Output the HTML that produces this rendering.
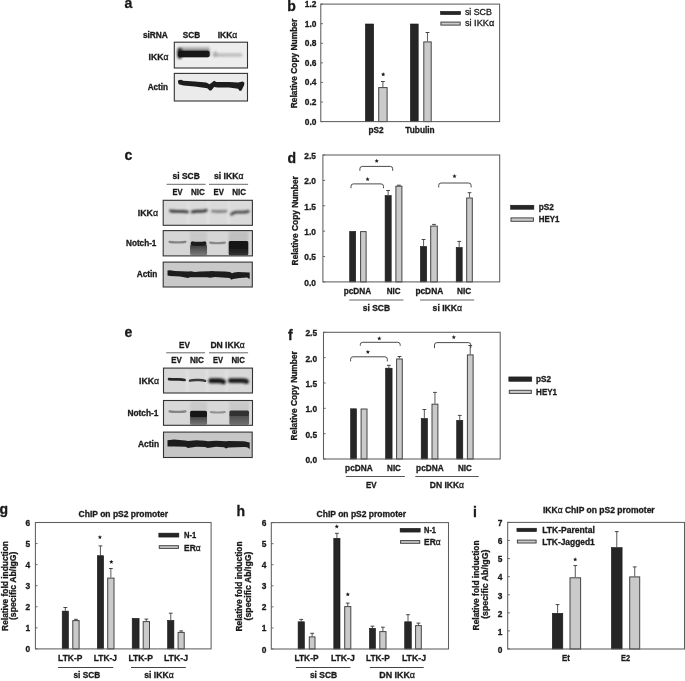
<!DOCTYPE html>
<html><head><meta charset="utf-8"><style>
html,body{margin:0;padding:0;background:#fff;width:685px;height:681px;overflow:hidden}
svg{display:block;will-change:transform}
text{font-family:"Liberation Sans", sans-serif;stroke:#1a1a1a;stroke-width:0.3px}
</style></head><body>
<svg width="685" height="681" viewBox="0 0 685 681">
<defs><filter id="b1" filterUnits="userSpaceOnUse" x="0" y="0" width="685" height="681"><feGaussianBlur stdDeviation="0.8"/></filter><filter id="b2" filterUnits="userSpaceOnUse" x="0" y="0" width="685" height="681"><feGaussianBlur stdDeviation="1.4"/></filter><filter id="b05" filterUnits="userSpaceOnUse" x="0" y="0" width="685" height="681"><feGaussianBlur stdDeviation="0.45"/></filter><filter id="b06" filterUnits="userSpaceOnUse" x="0" y="0" width="685" height="681"><feGaussianBlur stdDeviation="0.6"/></filter><filter id="b03" filterUnits="userSpaceOnUse" x="0" y="0" width="685" height="681"><feGaussianBlur stdDeviation="0.3"/></filter><linearGradient id="g5" x1="0" y1="0" x2="0" y2="1"><stop offset="0" stop-color="#e4e4e4"/><stop offset="0.5" stop-color="#7a7a7a"/><stop offset="1" stop-color="#1a1a1a"/></linearGradient><linearGradient id="g6" x1="0" y1="0" x2="0" y2="1"><stop offset="0" stop-color="#3a3a3a"/><stop offset="0.5" stop-color="#5a5a5a"/><stop offset="1" stop-color="#7c7c7c"/></linearGradient><linearGradient id="g7" x1="0" y1="0" x2="0" y2="1"><stop offset="0" stop-color="#181818"/><stop offset="0.0" stop-color="#181818"/><stop offset="1" stop-color="#333333"/></linearGradient><linearGradient id="g8" x1="0" y1="0" x2="0" y2="1"><stop offset="0" stop-color="#141414"/><stop offset="0.0" stop-color="#141414"/><stop offset="1" stop-color="#141414"/></linearGradient><linearGradient id="g9" x1="0" y1="0" x2="0" y2="1"><stop offset="0" stop-color="#333"/><stop offset="0.0" stop-color="#333"/><stop offset="1" stop-color="#777"/></linearGradient><linearGradient id="g10" x1="0" y1="0" x2="0" y2="1"><stop offset="0" stop-color="#181818"/><stop offset="0.0" stop-color="#181818"/><stop offset="1" stop-color="#181818"/></linearGradient><linearGradient id="g11" x1="0" y1="0" x2="0" y2="1"><stop offset="0" stop-color="#4a4a4a"/><stop offset="0.0" stop-color="#4a4a4a"/><stop offset="1" stop-color="#707070"/></linearGradient><linearGradient id="g12" x1="0" y1="0" x2="0" y2="1"><stop offset="0" stop-color="#303030"/><stop offset="0.0" stop-color="#303030"/><stop offset="1" stop-color="#303030"/></linearGradient></defs>
<rect width="685" height="681" fill="#fff"/>
<text x="124.60" y="7.80" font-size="14" font-weight="bold" fill="#1a1a1a">a</text>
<text x="142.90" y="37.60" font-size="8.3" font-weight="bold" fill="#1a1a1a" textLength="25.00" lengthAdjust="spacingAndGlyphs">siRNA</text>
<text x="182.80" y="37.60" font-size="8.3" font-weight="bold" fill="#1a1a1a" textLength="17.40" lengthAdjust="spacingAndGlyphs">SCB</text>
<text x="217.70" y="37.60" font-size="8.3" font-weight="bold" fill="#1a1a1a" textLength="19.50" lengthAdjust="spacingAndGlyphs">IKK<tspan font-weight="normal">&#945;</tspan></text>
<text x="148.60" y="60.20" font-size="8.3" font-weight="bold" fill="#1a1a1a" textLength="19.90" lengthAdjust="spacingAndGlyphs">IKK<tspan font-weight="normal">&#945;</tspan></text>
<text x="147.70" y="89.60" font-size="8.3" font-weight="bold" fill="#1a1a1a" textLength="20.40" lengthAdjust="spacingAndGlyphs">Actin</text>
<rect x="174.30" y="42.20" width="73.20" height="25.80" fill="#ededed"/>
<rect x="178.20" y="46.00" width="31.40" height="10.00" rx="1.5" fill="url(#g5)" filter="url(#b1)"/>
<rect x="178.20" y="50.70" width="31.40" height="6.60" rx="2.00" fill="#161616" opacity="1" filter="url(#b06)"/>
<rect x="177.40" y="48.00" width="4.80" height="11.00" rx="2.40" fill="#161616" opacity="0.85" filter="url(#b1)"/>
<rect x="213.00" y="53.20" width="29.50" height="3.60" rx="1.80" fill="#b8b8b8" opacity="0.9" filter="url(#b1)"/>
<rect x="213.00" y="51.00" width="4.50" height="6.00" rx="3.00" fill="#a0a0a0" opacity="0.6" filter="url(#b1)"/>
<rect x="174.30" y="42.20" width="73.20" height="25.80" fill="none" stroke="#333" stroke-width="1.1"/>
<rect x="174.30" y="73.40" width="73.20" height="27.60" fill="#ebebeb"/>
<path d="M178.30,80.20 L181.10,79.70 L183.40,80.80 L194.80,81.40 L206.20,82.50 L209.60,84.20 L211.90,82.50 L214.10,80.80 L216.40,82.00 L228.90,82.00 L238.00,82.50 L242.60,81.40 L244.30,82.50 L244.30,84.80 L241.50,90.50 L239.80,91.10 L238.00,88.80 L228.90,87.60 L217.50,87.60 L214.10,87.10 L211.30,90.50 L209.60,90.50 L207.30,88.20 L194.80,86.50 L183.40,85.40 L178.80,84.20 L177.90,82.00 Z" fill="#1c1c1c" filter="url(#b05)"/>
<rect x="174.30" y="73.40" width="73.20" height="27.60" fill="none" stroke="#333" stroke-width="1.1"/>
<text x="287.20" y="10.50" font-size="14" font-weight="bold" fill="#1a1a1a">b</text>
<rect x="365.40" y="24.00" width="8.30" height="97.60" fill="#262626" stroke="#161616" stroke-width="0.6"/>
<line x1="382.90" y1="81.50" x2="382.90" y2="87.10" stroke="#666" stroke-width="1.1" />
<line x1="381.00" y1="81.50" x2="384.80" y2="81.50" stroke="#333" stroke-width="0.9" />
<rect x="378.70" y="87.60" width="8.40" height="34.00" fill="#cacaca" stroke="#444" stroke-width="1"/>
<rect x="410.40" y="24.00" width="7.80" height="97.60" fill="#262626" stroke="#161616" stroke-width="0.6"/>
<line x1="427.50" y1="32.50" x2="427.50" y2="41.40" stroke="#666" stroke-width="1.1" />
<line x1="425.60" y1="32.50" x2="429.40" y2="32.50" stroke="#333" stroke-width="0.9" />
<rect x="423.80" y="41.90" width="7.40" height="79.70" fill="#cacaca" stroke="#444" stroke-width="1"/>
<rect x="320.80" y="4.10" width="178.80" height="117.50" fill="none" stroke="#5e5e5e" stroke-width="1.05"/>
<line x1="320.80" y1="121.60" x2="323.00" y2="121.60" stroke="#5e5e5e" stroke-width="0.9" />
<text x="316.50" y="124.60" font-size="8.4" font-weight="bold" fill="#1a1a1a" text-anchor="end">0.0</text>
<line x1="320.80" y1="102.02" x2="323.00" y2="102.02" stroke="#5e5e5e" stroke-width="0.9" />
<text x="316.50" y="105.02" font-size="8.4" font-weight="bold" fill="#1a1a1a" text-anchor="end">0.2</text>
<line x1="320.80" y1="82.43" x2="323.00" y2="82.43" stroke="#5e5e5e" stroke-width="0.9" />
<text x="316.50" y="85.43" font-size="8.4" font-weight="bold" fill="#1a1a1a" text-anchor="end">0.4</text>
<line x1="320.80" y1="62.85" x2="323.00" y2="62.85" stroke="#5e5e5e" stroke-width="0.9" />
<text x="316.50" y="65.85" font-size="8.4" font-weight="bold" fill="#1a1a1a" text-anchor="end">0.6</text>
<line x1="320.80" y1="43.27" x2="323.00" y2="43.27" stroke="#5e5e5e" stroke-width="0.9" />
<text x="316.50" y="46.27" font-size="8.4" font-weight="bold" fill="#1a1a1a" text-anchor="end">0.8</text>
<line x1="320.80" y1="23.68" x2="323.00" y2="23.68" stroke="#5e5e5e" stroke-width="0.9" />
<text x="316.50" y="26.68" font-size="8.4" font-weight="bold" fill="#1a1a1a" text-anchor="end">1.0</text>
<line x1="320.80" y1="4.10" x2="323.00" y2="4.10" stroke="#5e5e5e" stroke-width="0.9" />
<text x="316.50" y="7.10" font-size="8.4" font-weight="bold" fill="#1a1a1a" text-anchor="end">1.2</text>
<text x="297.40" y="63.50" font-size="8.3" font-weight="bold" fill="#1a1a1a" text-anchor="middle" textLength="89.50" lengthAdjust="spacingAndGlyphs" transform="rotate(-90 297.40 63.50)">Relative Copy Number</text>
<polygon points="383.20,72.15 383.80,73.58 385.34,73.70 384.16,74.71 384.52,76.22 383.20,75.41 381.88,76.22 382.24,74.71 381.06,73.70 382.60,73.58" fill="#1a1a1a"/>
<text x="368.60" y="133.20" font-size="8.3" font-weight="bold" fill="#1a1a1a" textLength="15.10" lengthAdjust="spacingAndGlyphs">pS2</text>
<text x="405.30" y="133.20" font-size="8.3" font-weight="bold" fill="#1a1a1a" textLength="29.40" lengthAdjust="spacingAndGlyphs">Tubulin</text>
<rect x="440.40" y="11.30" width="20.30" height="3.40" fill="#262626" stroke="#161616" stroke-width="0.5"/>
<rect x="440.90" y="22.10" width="19.30" height="3.00" fill="#cacaca" stroke="#444" stroke-width="1"/>
<text x="464.90" y="15.40" font-size="8.6" font-weight="normal" fill="#1a1a1a" textLength="27.00" lengthAdjust="spacingAndGlyphs">si SCB</text>
<text x="464.90" y="25.90" font-size="8.6" font-weight="normal" fill="#1a1a1a" textLength="29.40" lengthAdjust="spacingAndGlyphs">si IKK&#945;</text>
<text x="124.40" y="160.00" font-size="14" font-weight="bold" fill="#1a1a1a">c</text>
<text x="172.60" y="178.90" font-size="8.3" font-weight="bold" fill="#1a1a1a" textLength="27.20" lengthAdjust="spacingAndGlyphs">si SCB</text>
<text x="213.90" y="178.90" font-size="8.3" font-weight="bold" fill="#1a1a1a" textLength="29.60" lengthAdjust="spacingAndGlyphs">si IKK<tspan font-weight="normal">&#945;</tspan></text>
<line x1="166.60" y1="184.30" x2="205.60" y2="184.30" stroke="#6a6a6a" stroke-width="1" />
<line x1="209.00" y1="184.30" x2="248.10" y2="184.30" stroke="#6a6a6a" stroke-width="1" />
<text x="172.60" y="194.70" font-size="8.3" font-weight="bold" fill="#1a1a1a" textLength="10.00" lengthAdjust="spacingAndGlyphs">EV</text>
<text x="191.00" y="194.70" font-size="8.3" font-weight="bold" fill="#1a1a1a" textLength="13.90" lengthAdjust="spacingAndGlyphs">NIC</text>
<text x="213.50" y="194.70" font-size="8.3" font-weight="bold" fill="#1a1a1a" textLength="10.30" lengthAdjust="spacingAndGlyphs">EV</text>
<text x="232.30" y="194.70" font-size="8.3" font-weight="bold" fill="#1a1a1a" textLength="13.80" lengthAdjust="spacingAndGlyphs">NIC</text>
<text x="137.80" y="216.00" font-size="8.3" font-weight="bold" fill="#1a1a1a" textLength="20.20" lengthAdjust="spacingAndGlyphs">IKK<tspan font-weight="normal">&#945;</tspan></text>
<text x="126.00" y="245.60" font-size="8.3" font-weight="bold" fill="#1a1a1a" textLength="30.40" lengthAdjust="spacingAndGlyphs">Notch-1</text>
<text x="136.70" y="277.00" font-size="8.3" font-weight="bold" fill="#1a1a1a" textLength="20.70" lengthAdjust="spacingAndGlyphs">Actin</text>
<rect x="163.20" y="200.30" width="89.20" height="25.00" fill="#dadada"/>
<rect x="186.80" y="201.00" width="2.40" height="24.00" fill="#e2e2e2" filter="url(#b1)"/>
<rect x="206.80" y="201.00" width="2.40" height="24.00" fill="#e2e2e2" filter="url(#b1)"/>
<rect x="227.30" y="201.00" width="2.40" height="24.00" fill="#e2e2e2" filter="url(#b1)"/>
<path d="M170.50,210.80 Q172.60,211.30 176.10,211.30 L181.90,211.30 Q185.40,211.30 187.50,211.90" stroke="#3a3a3a" stroke-width="2.80" stroke-linecap="round" fill="none" opacity="1" filter="url(#b1)"/>
<path d="M192.30,211.90 Q194.30,211.30 197.80,211.30 L200.70,211.30 Q204.20,211.30 206.20,210.30" stroke="#3a3a3a" stroke-width="3.00" stroke-linecap="round" fill="none" opacity="1" filter="url(#b1)"/>
<path d="M212.40,211.10 Q214.70,211.50 218.20,211.50 L220.30,211.50 Q223.80,211.50 226.10,211.10" stroke="#727272" stroke-width="2.40" stroke-linecap="round" fill="none" opacity="1" filter="url(#b1)"/>
<path d="M231.50,214.20 Q233.60,212.20 237.10,212.20 L242.70,212.20 Q246.20,212.20 248.30,211.40" stroke="#4a4a4a" stroke-width="2.80" stroke-linecap="round" fill="none" opacity="1" filter="url(#b1)"/>
<rect x="163.20" y="200.30" width="89.20" height="25.00" fill="none" stroke="#333" stroke-width="1.1"/>
<rect x="163.20" y="230.60" width="89.20" height="25.30" fill="#d6d6d6"/>
<path d="M169.50,241.80 Q171.90,242.30 175.40,242.30 L179.60,242.30 Q183.10,242.30 185.50,241.80" stroke="#858585" stroke-width="2.20" stroke-linecap="round" fill="none" opacity="1" filter="url(#b06)"/>
<rect x="190.10" y="231.50" width="16.90" height="23.50" fill="#c8c8c8" filter="url(#b1)"/>
<rect x="190.10" y="244.50" width="16.90" height="10.70" rx="1.5" fill="url(#g6)" filter="url(#b06)"/>
<path d="M192.70,243.50 Q194.10,243.80 197.60,243.80 L199.50,243.80 Q203.00,243.80 204.40,243.50" stroke="#1c1c1c" stroke-width="4.20" stroke-linecap="round" fill="none" opacity="1" filter="url(#b06)"/>
<path d="M210.10,242.70 Q212.50,243.20 216.00,243.20 L218.90,243.20 Q222.40,243.20 224.80,242.70" stroke="#8a8a8a" stroke-width="2.20" stroke-linecap="round" fill="none" opacity="1" filter="url(#b06)"/>
<rect x="228.70" y="231.50" width="19.60" height="23.50" fill="#c0c0c0" filter="url(#b1)"/>
<rect x="228.70" y="247.00" width="19.60" height="8.20" rx="1.5" fill="url(#g7)" filter="url(#b06)"/>
<rect x="228.70" y="241.00" width="19.60" height="8.00" rx="1.5" fill="url(#g8)" filter="url(#b06)"/>
<rect x="163.20" y="230.60" width="89.20" height="25.30" fill="none" stroke="#333" stroke-width="1.1"/>
<rect x="163.20" y="262.10" width="89.10" height="24.90" fill="#c9c9c9"/>
<path d="M167.50,270.60 L170.00,270.30 L175.00,271.00 L188.00,271.60 L191.00,271.20 L195.00,271.90 L200.00,271.50 L209.00,271.30 L212.00,270.90 L215.00,271.30 L225.00,271.40 L230.00,271.90 L232.00,273.30 L234.00,272.40 L238.00,272.00 L249.70,272.40 L249.70,278.90 L247.00,277.60 L240.00,277.90 L233.00,278.90 L231.50,279.70 L229.50,277.90 L215.00,277.00 L210.00,277.80 L207.00,277.20 L200.00,277.20 L190.00,277.20 L188.00,278.00 L180.00,276.60 L170.00,276.00 L167.50,275.40 Z" fill="#1e1e1e" filter="url(#b05)"/>
<rect x="163.20" y="262.10" width="89.10" height="24.90" fill="none" stroke="#333" stroke-width="1.1"/>
<text x="124.40" y="336.80" font-size="14" font-weight="bold" fill="#1a1a1a">e</text>
<text x="179.10" y="347.60" font-size="8.3" font-weight="bold" fill="#1a1a1a" textLength="10.90" lengthAdjust="spacingAndGlyphs">EV</text>
<text x="210.40" y="347.60" font-size="8.3" font-weight="bold" fill="#1a1a1a" textLength="34.40" lengthAdjust="spacingAndGlyphs">DN IKK<tspan font-weight="normal">&#945;</tspan></text>
<line x1="166.20" y1="352.80" x2="205.10" y2="352.80" stroke="#6a6a6a" stroke-width="1" />
<line x1="209.00" y1="352.80" x2="248.10" y2="352.80" stroke="#6a6a6a" stroke-width="1" />
<text x="171.20" y="363.20" font-size="8.3" font-weight="bold" fill="#1a1a1a" textLength="10.50" lengthAdjust="spacingAndGlyphs">EV</text>
<text x="189.90" y="363.20" font-size="8.3" font-weight="bold" fill="#1a1a1a" textLength="14.10" lengthAdjust="spacingAndGlyphs">NIC</text>
<text x="213.00" y="363.20" font-size="8.3" font-weight="bold" fill="#1a1a1a" textLength="10.10" lengthAdjust="spacingAndGlyphs">EV</text>
<text x="231.40" y="363.20" font-size="8.3" font-weight="bold" fill="#1a1a1a" textLength="13.60" lengthAdjust="spacingAndGlyphs">NIC</text>
<text x="139.10" y="383.60" font-size="8.3" font-weight="bold" fill="#1a1a1a" textLength="20.00" lengthAdjust="spacingAndGlyphs">IKK<tspan font-weight="normal">&#945;</tspan></text>
<text x="127.40" y="415.60" font-size="8.3" font-weight="bold" fill="#1a1a1a" textLength="31.10" lengthAdjust="spacingAndGlyphs">Notch-1</text>
<text x="137.90" y="447.10" font-size="8.3" font-weight="bold" fill="#1a1a1a" textLength="21.20" lengthAdjust="spacingAndGlyphs">Actin</text>
<rect x="163.50" y="368.10" width="89.00" height="24.90" fill="#d8d8d8"/>
<rect x="186.10" y="369.00" width="2.40" height="23.00" fill="#e2e2e2" filter="url(#b1)"/>
<rect x="205.80" y="369.00" width="2.40" height="23.00" fill="#e2e2e2" filter="url(#b1)"/>
<rect x="225.40" y="369.00" width="2.40" height="23.00" fill="#e2e2e2" filter="url(#b1)"/>
<path d="M169.00,379.10 Q171.20,379.40 174.70,379.40 L178.90,379.40 Q182.40,379.40 184.60,379.90" stroke="#262626" stroke-width="2.60" stroke-linecap="round" fill="none" opacity="1" filter="url(#b06)"/>
<path d="M189.90,380.60 Q192.20,380.00 195.70,380.00 L199.30,380.00 Q202.80,380.00 205.10,380.80" stroke="#3a3a3a" stroke-width="2.40" stroke-linecap="round" fill="none" opacity="1" filter="url(#b06)"/>
<path d="M210.90,380.70 Q211.90,380.70 215.40,380.70 L218.90,380.70 Q222.40,380.70 223.40,381.70" stroke="#181818" stroke-width="5.00" stroke-linecap="round" fill="none" opacity="1" filter="url(#b1)"/>
<path d="M230.40,380.70 Q231.50,380.70 235.00,380.70 L242.00,380.70 Q245.50,380.70 246.60,381.50" stroke="#1c1c1c" stroke-width="4.80" stroke-linecap="round" fill="none" opacity="1" filter="url(#b1)"/>
<rect x="163.50" y="368.10" width="89.00" height="24.90" fill="none" stroke="#333" stroke-width="1.1"/>
<rect x="163.50" y="400.50" width="89.00" height="24.80" fill="#d8d8d8"/>
<path d="M169.50,411.40 Q171.90,411.90 175.40,411.90 L179.60,411.90 Q183.10,411.90 185.50,411.40" stroke="#858585" stroke-width="2.20" stroke-linecap="round" fill="none" opacity="1" filter="url(#b06)"/>
<rect x="190.10" y="401.50" width="16.90" height="23.00" fill="#cacaca" filter="url(#b1)"/>
<rect x="190.10" y="414.00" width="16.90" height="10.80" rx="1.5" fill="url(#g9)" filter="url(#b06)"/>
<rect x="190.10" y="410.80" width="16.90" height="6.20" rx="1.5" fill="url(#g10)" filter="url(#b06)"/>
<path d="M210.90,412.00 Q213.30,412.50 216.80,412.50 L218.90,412.50 Q222.40,412.50 224.80,412.00" stroke="#939393" stroke-width="2.20" stroke-linecap="round" fill="none" opacity="1" filter="url(#b06)"/>
<rect x="229.40" y="401.50" width="19.60" height="23.00" fill="#c8c8c8" filter="url(#b1)"/>
<rect x="229.40" y="414.00" width="19.60" height="10.80" rx="1.5" fill="url(#g11)" filter="url(#b06)"/>
<rect x="229.40" y="410.40" width="19.60" height="5.60" rx="1.5" fill="url(#g12)" filter="url(#b06)"/>
<rect x="163.50" y="400.50" width="89.00" height="24.80" fill="none" stroke="#333" stroke-width="1.1"/>
<rect x="163.50" y="432.10" width="88.70" height="25.40" fill="#c6c6c6"/>
<path d="M167.50,440.30 L174.00,439.60 L185.20,440.50 L188.00,441.00 L196.40,440.20 L204.80,440.80 L207.70,441.30 L216.00,440.80 L225.90,441.20 L228.70,440.90 L244.00,441.20 L249.70,442.40 L249.70,449.00 L247.00,447.20 L244.00,447.00 L228.70,447.60 L225.90,448.50 L224.00,447.20 L216.00,446.80 L207.70,447.90 L205.00,446.90 L196.40,446.70 L188.00,447.90 L185.50,446.80 L174.00,446.40 L167.50,446.40 Z" fill="#1e1e1e" filter="url(#b05)"/>
<rect x="163.50" y="432.10" width="88.70" height="25.40" fill="none" stroke="#333" stroke-width="1.1"/>
<text x="287.50" y="162.50" font-size="14" font-weight="bold" fill="#1a1a1a">d</text>
<rect x="349.70" y="231.40" width="6.00" height="50.50" fill="#262626" stroke="#161616" stroke-width="0.6"/>
<rect x="360.60" y="231.60" width="5.50" height="50.30" fill="#cacaca" stroke="#444" stroke-width="1"/>
<line x1="388.15" y1="190.50" x2="388.15" y2="195.30" stroke="#666" stroke-width="1.1" />
<line x1="386.25" y1="190.50" x2="390.05" y2="190.50" stroke="#333" stroke-width="0.9" />
<rect x="385.10" y="195.60" width="6.10" height="86.30" fill="#262626" stroke="#161616" stroke-width="0.6"/>
<line x1="398.90" y1="185.20" x2="398.90" y2="185.70" stroke="#666" stroke-width="1.1" />
<line x1="397.00" y1="185.20" x2="400.80" y2="185.20" stroke="#333" stroke-width="0.9" />
<rect x="395.90" y="186.20" width="6.00" height="95.70" fill="#cacaca" stroke="#444" stroke-width="1"/>
<line x1="423.55" y1="239.50" x2="423.55" y2="246.20" stroke="#666" stroke-width="1.1" />
<line x1="421.65" y1="239.50" x2="425.45" y2="239.50" stroke="#333" stroke-width="0.9" />
<rect x="420.40" y="246.50" width="6.30" height="35.40" fill="#262626" stroke="#161616" stroke-width="0.6"/>
<line x1="434.00" y1="224.40" x2="434.00" y2="225.60" stroke="#666" stroke-width="1.1" />
<line x1="432.10" y1="224.40" x2="435.90" y2="224.40" stroke="#333" stroke-width="0.9" />
<rect x="430.70" y="226.10" width="6.60" height="55.80" fill="#cacaca" stroke="#444" stroke-width="1"/>
<line x1="459.20" y1="241.40" x2="459.20" y2="247.20" stroke="#666" stroke-width="1.1" />
<line x1="457.30" y1="241.40" x2="461.10" y2="241.40" stroke="#333" stroke-width="0.9" />
<rect x="456.20" y="247.50" width="6.00" height="34.40" fill="#262626" stroke="#161616" stroke-width="0.6"/>
<line x1="469.50" y1="192.70" x2="469.50" y2="197.50" stroke="#666" stroke-width="1.1" />
<line x1="467.60" y1="192.70" x2="471.40" y2="192.70" stroke="#333" stroke-width="0.9" />
<rect x="466.70" y="198.00" width="5.60" height="83.90" fill="#cacaca" stroke="#444" stroke-width="1"/>
<rect x="322.90" y="155.00" width="176.80" height="126.90" fill="none" stroke="#5e5e5e" stroke-width="1.05"/>
<line x1="322.90" y1="281.90" x2="325.10" y2="281.90" stroke="#5e5e5e" stroke-width="0.9" />
<text x="316.00" y="285.70" font-size="8.4" font-weight="bold" fill="#1a1a1a" text-anchor="end">0.0</text>
<line x1="322.90" y1="256.52" x2="325.10" y2="256.52" stroke="#5e5e5e" stroke-width="0.9" />
<text x="316.00" y="260.32" font-size="8.4" font-weight="bold" fill="#1a1a1a" text-anchor="end">0.5</text>
<line x1="322.90" y1="231.14" x2="325.10" y2="231.14" stroke="#5e5e5e" stroke-width="0.9" />
<text x="316.00" y="234.94" font-size="8.4" font-weight="bold" fill="#1a1a1a" text-anchor="end">1.0</text>
<line x1="322.90" y1="205.76" x2="325.10" y2="205.76" stroke="#5e5e5e" stroke-width="0.9" />
<text x="316.00" y="209.56" font-size="8.4" font-weight="bold" fill="#1a1a1a" text-anchor="end">1.5</text>
<line x1="322.90" y1="180.38" x2="325.10" y2="180.38" stroke="#5e5e5e" stroke-width="0.9" />
<text x="316.00" y="184.18" font-size="8.4" font-weight="bold" fill="#1a1a1a" text-anchor="end">2.0</text>
<line x1="322.90" y1="155.00" x2="325.10" y2="155.00" stroke="#5e5e5e" stroke-width="0.9" />
<text x="316.00" y="158.80" font-size="8.4" font-weight="bold" fill="#1a1a1a" text-anchor="end">2.5</text>
<text x="297.60" y="220.80" font-size="8.3" font-weight="bold" fill="#1a1a1a" text-anchor="middle" textLength="89.20" lengthAdjust="spacingAndGlyphs" transform="rotate(-90 297.60 220.80)">Relative Copy Number</text>
<path d="M351.00,188.20 L351.00,186.30 Q351.00,183.90 353.40,183.90 L381.10,183.90 Q383.50,183.90 383.50,186.30 L383.50,188.20" stroke="#4a4a4a" stroke-width="1.0" fill="none" />
<polygon points="367.60,177.05 368.20,178.48 369.74,178.60 368.56,179.61 368.92,181.12 367.60,180.31 366.28,181.12 366.64,179.61 365.46,178.60 367.00,178.48" fill="#1a1a1a"/>
<path d="M359.90,170.80 L359.90,168.80 Q359.90,166.40 362.30,166.40 L390.30,166.40 Q392.70,166.40 392.70,168.80 L392.70,170.80" stroke="#4a4a4a" stroke-width="1.0" fill="none" />
<polygon points="376.70,158.75 377.30,160.18 378.84,160.30 377.66,161.31 378.02,162.82 376.70,162.01 375.38,162.82 375.74,161.31 374.56,160.30 376.10,160.18" fill="#1a1a1a"/>
<path d="M438.70,187.40 L438.70,185.40 Q438.70,183.00 441.10,183.00 L468.70,183.00 Q471.10,183.00 471.10,185.40 L471.10,187.40" stroke="#4a4a4a" stroke-width="1.0" fill="none" />
<polygon points="454.50,174.05 455.10,175.48 456.64,175.60 455.46,176.61 455.82,178.12 454.50,177.31 453.18,178.12 453.54,176.61 452.36,175.60 453.90,175.48" fill="#1a1a1a"/>
<text x="343.70" y="294.00" font-size="8.3" font-weight="bold" fill="#1a1a1a" textLength="27.50" lengthAdjust="spacingAndGlyphs">pcDNA</text>
<text x="386.70" y="294.00" font-size="8.3" font-weight="bold" fill="#1a1a1a" textLength="13.80" lengthAdjust="spacingAndGlyphs">NIC</text>
<line x1="349.20" y1="300.00" x2="403.40" y2="300.00" stroke="#999" stroke-width="1.4" />
<text x="362.80" y="311.10" font-size="8.3" font-weight="bold" fill="#1a1a1a" textLength="27.30" lengthAdjust="spacingAndGlyphs">si SCB</text>
<text x="415.40" y="294.20" font-size="8.3" font-weight="bold" fill="#1a1a1a" textLength="27.80" lengthAdjust="spacingAndGlyphs">pcDNA</text>
<text x="457.10" y="294.20" font-size="8.3" font-weight="bold" fill="#1a1a1a" textLength="14.20" lengthAdjust="spacingAndGlyphs">NIC</text>
<line x1="420.00" y1="300.00" x2="474.20" y2="300.00" stroke="#999" stroke-width="1.4" />
<text x="432.60" y="310.70" font-size="8.3" font-weight="bold" fill="#1a1a1a" textLength="29.40" lengthAdjust="spacingAndGlyphs">si IKK<tspan font-weight="normal">&#945;</tspan></text>
<rect x="510.50" y="205.20" width="23.40" height="4.10" fill="#262626" stroke="#161616" stroke-width="0.5"/>
<rect x="511.00" y="217.90" width="22.40" height="3.40" fill="#cacaca" stroke="#444" stroke-width="1"/>
<text x="538.80" y="209.90" font-size="8.3" font-weight="bold" fill="#1a1a1a" textLength="15.10" lengthAdjust="spacingAndGlyphs">pS2</text>
<text x="538.80" y="222.30" font-size="8.3" font-weight="bold" fill="#1a1a1a" textLength="20.70" lengthAdjust="spacingAndGlyphs">HEY1</text>
<text x="287.90" y="339.60" font-size="14" font-weight="bold" fill="#1a1a1a">f</text>
<rect x="350.60" y="408.80" width="5.90" height="50.20" fill="#262626" stroke="#161616" stroke-width="0.6"/>
<rect x="361.10" y="409.00" width="5.90" height="50.00" fill="#cacaca" stroke="#444" stroke-width="1"/>
<line x1="388.85" y1="365.30" x2="388.85" y2="367.90" stroke="#666" stroke-width="1.1" />
<line x1="386.95" y1="365.30" x2="390.75" y2="365.30" stroke="#333" stroke-width="0.9" />
<rect x="385.60" y="368.20" width="6.50" height="90.80" fill="#262626" stroke="#161616" stroke-width="0.6"/>
<line x1="399.45" y1="356.50" x2="399.45" y2="358.50" stroke="#666" stroke-width="1.1" />
<line x1="397.55" y1="356.50" x2="401.35" y2="356.50" stroke="#333" stroke-width="0.9" />
<rect x="396.60" y="359.00" width="5.70" height="100.00" fill="#cacaca" stroke="#444" stroke-width="1"/>
<line x1="424.35" y1="409.50" x2="424.35" y2="418.20" stroke="#666" stroke-width="1.1" />
<line x1="422.45" y1="409.50" x2="426.25" y2="409.50" stroke="#333" stroke-width="0.9" />
<rect x="421.20" y="418.50" width="6.30" height="40.50" fill="#262626" stroke="#161616" stroke-width="0.6"/>
<line x1="434.95" y1="392.40" x2="434.95" y2="403.70" stroke="#666" stroke-width="1.1" />
<line x1="433.05" y1="392.40" x2="436.85" y2="392.40" stroke="#333" stroke-width="0.9" />
<rect x="432.00" y="404.20" width="5.90" height="54.80" fill="#cacaca" stroke="#444" stroke-width="1"/>
<line x1="459.75" y1="415.40" x2="459.75" y2="420.00" stroke="#666" stroke-width="1.1" />
<line x1="457.85" y1="415.40" x2="461.65" y2="415.40" stroke="#333" stroke-width="0.9" />
<rect x="456.70" y="420.30" width="6.10" height="38.70" fill="#262626" stroke="#161616" stroke-width="0.6"/>
<line x1="470.25" y1="345.50" x2="470.25" y2="354.40" stroke="#666" stroke-width="1.1" />
<line x1="468.35" y1="345.50" x2="472.15" y2="345.50" stroke="#333" stroke-width="0.9" />
<rect x="467.40" y="354.90" width="5.70" height="104.10" fill="#cacaca" stroke="#444" stroke-width="1"/>
<rect x="323.50" y="332.30" width="176.70" height="126.70" fill="none" stroke="#5e5e5e" stroke-width="1.05"/>
<line x1="323.50" y1="459.00" x2="325.70" y2="459.00" stroke="#5e5e5e" stroke-width="0.9" />
<text x="317.10" y="462.90" font-size="8.4" font-weight="bold" fill="#1a1a1a" text-anchor="end">0.0</text>
<line x1="323.50" y1="433.66" x2="325.70" y2="433.66" stroke="#5e5e5e" stroke-width="0.9" />
<text x="317.10" y="437.56" font-size="8.4" font-weight="bold" fill="#1a1a1a" text-anchor="end">0.5</text>
<line x1="323.50" y1="408.32" x2="325.70" y2="408.32" stroke="#5e5e5e" stroke-width="0.9" />
<text x="317.10" y="412.22" font-size="8.4" font-weight="bold" fill="#1a1a1a" text-anchor="end">1.0</text>
<line x1="323.50" y1="382.98" x2="325.70" y2="382.98" stroke="#5e5e5e" stroke-width="0.9" />
<text x="317.10" y="386.88" font-size="8.4" font-weight="bold" fill="#1a1a1a" text-anchor="end">1.5</text>
<line x1="323.50" y1="357.64" x2="325.70" y2="357.64" stroke="#5e5e5e" stroke-width="0.9" />
<text x="317.10" y="361.54" font-size="8.4" font-weight="bold" fill="#1a1a1a" text-anchor="end">2.0</text>
<line x1="323.50" y1="332.30" x2="325.70" y2="332.30" stroke="#5e5e5e" stroke-width="0.9" />
<text x="317.10" y="336.20" font-size="8.4" font-weight="bold" fill="#1a1a1a" text-anchor="end">2.5</text>
<text x="297.00" y="395.80" font-size="8.3" font-weight="bold" fill="#1a1a1a" text-anchor="middle" textLength="89.20" lengthAdjust="spacingAndGlyphs" transform="rotate(-90 297.00 395.80)">Relative Copy Number</text>
<path d="M350.60,361.40 L350.60,359.20 Q350.60,356.80 353.00,356.80 L384.90,356.80 Q387.30,356.80 387.30,359.20 L387.30,361.40" stroke="#4a4a4a" stroke-width="1.0" fill="none" />
<polygon points="367.90,349.75 368.50,351.18 370.04,351.30 368.86,352.31 369.22,353.82 367.90,353.01 366.58,353.82 366.94,352.31 365.76,351.30 367.30,351.18" fill="#1a1a1a"/>
<path d="M360.30,345.80 L360.30,344.70 Q360.30,342.30 362.70,342.30 L397.80,342.30 Q400.20,342.30 400.20,344.70 L400.20,345.80" stroke="#4a4a4a" stroke-width="1.0" fill="none" />
<polygon points="379.30,336.25 379.90,337.68 381.44,337.80 380.26,338.81 380.62,340.32 379.30,339.51 377.98,340.32 378.34,338.81 377.16,337.80 378.70,337.68" fill="#1a1a1a"/>
<path d="M434.50,348.10 L434.50,345.00 Q434.50,342.60 436.90,342.60 L468.40,342.60 Q470.80,342.60 470.80,345.00 L470.80,348.10" stroke="#4a4a4a" stroke-width="1.0" fill="none" />
<polygon points="453.80,335.05 454.40,336.48 455.94,336.60 454.76,337.61 455.12,339.12 453.80,338.31 452.48,339.12 452.84,337.61 451.66,336.60 453.20,336.48" fill="#1a1a1a"/>
<text x="345.10" y="470.70" font-size="8.3" font-weight="bold" fill="#1a1a1a" textLength="27.60" lengthAdjust="spacingAndGlyphs">pcDNA</text>
<text x="387.10" y="470.70" font-size="8.3" font-weight="bold" fill="#1a1a1a" textLength="13.80" lengthAdjust="spacingAndGlyphs">NIC</text>
<line x1="345.90" y1="476.50" x2="404.90" y2="476.50" stroke="#555" stroke-width="1.0" />
<text x="366.00" y="488.10" font-size="8.3" font-weight="bold" fill="#1a1a1a" textLength="10.60" lengthAdjust="spacingAndGlyphs">EV</text>
<text x="416.10" y="470.70" font-size="8.3" font-weight="bold" fill="#1a1a1a" textLength="27.60" lengthAdjust="spacingAndGlyphs">pcDNA</text>
<text x="457.90" y="470.70" font-size="8.3" font-weight="bold" fill="#1a1a1a" textLength="13.90" lengthAdjust="spacingAndGlyphs">NIC</text>
<line x1="415.30" y1="476.50" x2="478.70" y2="476.50" stroke="#555" stroke-width="1.0" />
<text x="429.80" y="488.10" font-size="8.3" font-weight="bold" fill="#1a1a1a" textLength="34.20" lengthAdjust="spacingAndGlyphs">DN IKK<tspan font-weight="normal">&#945;</tspan></text>
<rect x="508.80" y="376.90" width="23.00" height="4.50" fill="#262626" stroke="#161616" stroke-width="0.5"/>
<rect x="509.30" y="390.30" width="22.00" height="3.10" fill="#cacaca" stroke="#444" stroke-width="1"/>
<text x="536.10" y="381.80" font-size="8.3" font-weight="bold" fill="#1a1a1a" textLength="15.00" lengthAdjust="spacingAndGlyphs">pS2</text>
<text x="536.10" y="394.50" font-size="8.3" font-weight="bold" fill="#1a1a1a" textLength="21.00" lengthAdjust="spacingAndGlyphs">HEY1</text>
<text x="-0.50" y="513.50" font-size="14" font-weight="bold" fill="#1a1a1a">g</text>
<text x="78.60" y="516.70" font-size="8.3" font-weight="bold" fill="#1a1a1a" textLength="89.50" lengthAdjust="spacingAndGlyphs">ChIP on pS2 promoter</text>
<line x1="65.35" y1="607.50" x2="65.35" y2="610.80" stroke="#666" stroke-width="1.1" />
<line x1="63.45" y1="607.50" x2="67.25" y2="607.50" stroke="#333" stroke-width="0.9" />
<rect x="62.20" y="611.10" width="6.30" height="37.80" fill="#262626" stroke="#161616" stroke-width="0.6"/>
<line x1="75.95" y1="619.30" x2="75.95" y2="620.10" stroke="#666" stroke-width="1.1" />
<line x1="74.05" y1="619.30" x2="77.85" y2="619.30" stroke="#333" stroke-width="0.9" />
<rect x="72.80" y="620.60" width="6.30" height="28.30" fill="#cacaca" stroke="#444" stroke-width="1"/>
<line x1="100.45" y1="545.90" x2="100.45" y2="555.40" stroke="#666" stroke-width="1.1" />
<line x1="98.55" y1="545.90" x2="102.35" y2="545.90" stroke="#333" stroke-width="0.9" />
<rect x="97.30" y="555.70" width="6.30" height="93.20" fill="#262626" stroke="#161616" stroke-width="0.6"/>
<line x1="110.85" y1="568.50" x2="110.85" y2="577.60" stroke="#666" stroke-width="1.1" />
<line x1="108.95" y1="568.50" x2="112.75" y2="568.50" stroke="#333" stroke-width="0.9" />
<rect x="107.70" y="578.10" width="6.30" height="70.80" fill="#cacaca" stroke="#444" stroke-width="1"/>
<rect x="132.20" y="618.40" width="6.90" height="30.50" fill="#262626" stroke="#161616" stroke-width="0.6"/>
<line x1="146.35" y1="619.10" x2="146.35" y2="621.10" stroke="#666" stroke-width="1.1" />
<line x1="144.45" y1="619.10" x2="148.25" y2="619.10" stroke="#333" stroke-width="0.9" />
<rect x="143.20" y="621.60" width="6.30" height="27.30" fill="#cacaca" stroke="#444" stroke-width="1"/>
<line x1="170.75" y1="613.20" x2="170.75" y2="620.10" stroke="#666" stroke-width="1.1" />
<line x1="168.85" y1="613.20" x2="172.65" y2="613.20" stroke="#333" stroke-width="0.9" />
<rect x="167.60" y="620.40" width="6.30" height="28.50" fill="#262626" stroke="#161616" stroke-width="0.6"/>
<line x1="181.15" y1="630.90" x2="181.15" y2="631.90" stroke="#666" stroke-width="1.1" />
<line x1="179.25" y1="630.90" x2="183.05" y2="630.90" stroke="#333" stroke-width="0.9" />
<rect x="178.10" y="632.40" width="6.10" height="16.50" fill="#cacaca" stroke="#444" stroke-width="1"/>
<rect x="35.40" y="522.50" width="175.70" height="126.40" fill="none" stroke="#5e5e5e" stroke-width="1.05"/>
<line x1="35.40" y1="648.90" x2="37.60" y2="648.90" stroke="#5e5e5e" stroke-width="0.9" />
<text x="30.20" y="652.40" font-size="8.4" font-weight="bold" fill="#1a1a1a" text-anchor="end">0</text>
<line x1="35.40" y1="627.83" x2="37.60" y2="627.83" stroke="#5e5e5e" stroke-width="0.9" />
<text x="30.20" y="631.33" font-size="8.4" font-weight="bold" fill="#1a1a1a" text-anchor="end">1</text>
<line x1="35.40" y1="606.77" x2="37.60" y2="606.77" stroke="#5e5e5e" stroke-width="0.9" />
<text x="30.20" y="610.27" font-size="8.4" font-weight="bold" fill="#1a1a1a" text-anchor="end">2</text>
<line x1="35.40" y1="585.70" x2="37.60" y2="585.70" stroke="#5e5e5e" stroke-width="0.9" />
<text x="30.20" y="589.20" font-size="8.4" font-weight="bold" fill="#1a1a1a" text-anchor="end">3</text>
<line x1="35.40" y1="564.63" x2="37.60" y2="564.63" stroke="#5e5e5e" stroke-width="0.9" />
<text x="30.20" y="568.13" font-size="8.4" font-weight="bold" fill="#1a1a1a" text-anchor="end">4</text>
<line x1="35.40" y1="543.57" x2="37.60" y2="543.57" stroke="#5e5e5e" stroke-width="0.9" />
<text x="30.20" y="547.07" font-size="8.4" font-weight="bold" fill="#1a1a1a" text-anchor="end">5</text>
<line x1="35.40" y1="522.50" x2="37.60" y2="522.50" stroke="#5e5e5e" stroke-width="0.9" />
<text x="30.20" y="526.00" font-size="8.4" font-weight="bold" fill="#1a1a1a" text-anchor="end">6</text>
<polygon points="99.90,534.95 100.50,536.38 102.04,536.50 100.86,537.51 101.22,539.02 99.90,538.21 98.58,539.02 98.94,537.51 97.76,536.50 99.30,536.38" fill="#1a1a1a"/>
<polygon points="111.30,559.65 111.90,561.08 113.44,561.20 112.26,562.21 112.62,563.72 111.30,562.91 109.98,563.72 110.34,562.21 109.16,561.20 110.70,561.08" fill="#1a1a1a"/>
<text x="7.70" y="586.00" font-size="8.3" font-weight="bold" fill="#1a1a1a" text-anchor="middle" textLength="89.80" lengthAdjust="spacingAndGlyphs" transform="rotate(-90 7.70 586.00)">Relative fold induction</text>
<text x="16.30" y="585.80" font-size="8.3" font-weight="bold" fill="#1a1a1a" text-anchor="middle" textLength="68.50" lengthAdjust="spacingAndGlyphs" transform="rotate(-90 16.30 585.80)">(specific Ab/IgG)</text>
<text x="58.10" y="661.20" font-size="8.3" font-weight="bold" fill="#1a1a1a" textLength="24.30" lengthAdjust="spacingAndGlyphs">LTK-P</text>
<text x="93.80" y="661.20" font-size="8.3" font-weight="bold" fill="#1a1a1a" textLength="23.20" lengthAdjust="spacingAndGlyphs">LTK-J</text>
<text x="128.40" y="661.20" font-size="8.3" font-weight="bold" fill="#1a1a1a" textLength="24.50" lengthAdjust="spacingAndGlyphs">LTK-P</text>
<text x="163.90" y="661.20" font-size="8.3" font-weight="bold" fill="#1a1a1a" textLength="24.10" lengthAdjust="spacingAndGlyphs">LTK-J</text>
<line x1="58.10" y1="667.50" x2="113.30" y2="667.50" stroke="#444" stroke-width="1" />
<line x1="131.00" y1="667.50" x2="185.80" y2="667.50" stroke="#444" stroke-width="1" />
<text x="73.40" y="678.20" font-size="8.3" font-weight="bold" fill="#1a1a1a" textLength="26.80" lengthAdjust="spacingAndGlyphs">si SCB</text>
<text x="144.20" y="678.40" font-size="8.3" font-weight="bold" fill="#1a1a1a" textLength="29.50" lengthAdjust="spacingAndGlyphs">si IKK<tspan font-weight="normal">&#945;</tspan></text>
<rect x="158.80" y="533.10" width="20.10" height="4.00" fill="#262626" stroke="#161616" stroke-width="0.5"/>
<rect x="159.30" y="545.70" width="19.10" height="2.70" fill="#cacaca" stroke="#444" stroke-width="1"/>
<text x="184.00" y="538.40" font-size="8.3" font-weight="bold" fill="#1a1a1a" textLength="12.20" lengthAdjust="spacingAndGlyphs">N-1</text>
<text x="184.00" y="550.70" font-size="8.3" font-weight="bold" fill="#1a1a1a" textLength="16.60" lengthAdjust="spacingAndGlyphs">ER<tspan font-weight="normal">&#945;</tspan></text>
<text x="236.50" y="516.20" font-size="14" font-weight="bold" fill="#1a1a1a">h</text>
<text x="316.60" y="516.70" font-size="8.3" font-weight="bold" fill="#1a1a1a" textLength="89.50" lengthAdjust="spacingAndGlyphs">ChIP on pS2 promoter</text>
<line x1="301.25" y1="619.40" x2="301.25" y2="621.50" stroke="#666" stroke-width="1.1" />
<line x1="299.35" y1="619.40" x2="303.15" y2="619.40" stroke="#333" stroke-width="0.9" />
<rect x="298.10" y="621.80" width="6.30" height="27.20" fill="#262626" stroke="#161616" stroke-width="0.6"/>
<line x1="312.15" y1="633.30" x2="312.15" y2="636.40" stroke="#666" stroke-width="1.1" />
<line x1="310.25" y1="633.30" x2="314.05" y2="633.30" stroke="#333" stroke-width="0.9" />
<rect x="309.30" y="636.90" width="5.70" height="12.10" fill="#cacaca" stroke="#444" stroke-width="1"/>
<line x1="336.90" y1="533.30" x2="336.90" y2="538.00" stroke="#666" stroke-width="1.1" />
<line x1="335.00" y1="533.30" x2="338.80" y2="533.30" stroke="#333" stroke-width="0.9" />
<rect x="333.80" y="538.30" width="6.20" height="110.70" fill="#262626" stroke="#161616" stroke-width="0.6"/>
<line x1="347.75" y1="603.10" x2="347.75" y2="606.10" stroke="#666" stroke-width="1.1" />
<line x1="345.85" y1="603.10" x2="349.65" y2="603.10" stroke="#333" stroke-width="0.9" />
<rect x="344.70" y="606.60" width="6.10" height="42.40" fill="#cacaca" stroke="#444" stroke-width="1"/>
<line x1="372.45" y1="626.20" x2="372.45" y2="628.00" stroke="#666" stroke-width="1.1" />
<line x1="370.55" y1="626.20" x2="374.35" y2="626.20" stroke="#333" stroke-width="0.9" />
<rect x="369.40" y="628.30" width="6.10" height="20.70" fill="#262626" stroke="#161616" stroke-width="0.6"/>
<line x1="382.90" y1="627.20" x2="382.90" y2="631.10" stroke="#666" stroke-width="1.1" />
<line x1="381.00" y1="627.20" x2="384.80" y2="627.20" stroke="#333" stroke-width="0.9" />
<rect x="379.80" y="631.60" width="6.20" height="17.40" fill="#cacaca" stroke="#444" stroke-width="1"/>
<line x1="408.00" y1="614.70" x2="408.00" y2="621.50" stroke="#666" stroke-width="1.1" />
<line x1="406.10" y1="614.70" x2="409.90" y2="614.70" stroke="#333" stroke-width="0.9" />
<rect x="404.70" y="621.80" width="6.60" height="27.20" fill="#262626" stroke="#161616" stroke-width="0.6"/>
<line x1="418.45" y1="623.10" x2="418.45" y2="625.10" stroke="#666" stroke-width="1.1" />
<line x1="416.55" y1="623.10" x2="420.35" y2="623.10" stroke="#333" stroke-width="0.9" />
<rect x="415.60" y="625.60" width="5.70" height="23.40" fill="#cacaca" stroke="#444" stroke-width="1"/>
<rect x="271.30" y="522.60" width="177.20" height="126.40" fill="none" stroke="#5e5e5e" stroke-width="1.05"/>
<line x1="271.30" y1="649.00" x2="273.50" y2="649.00" stroke="#5e5e5e" stroke-width="0.9" />
<text x="266.40" y="652.50" font-size="8.4" font-weight="bold" fill="#1a1a1a" text-anchor="end">0</text>
<line x1="271.30" y1="627.93" x2="273.50" y2="627.93" stroke="#5e5e5e" stroke-width="0.9" />
<text x="266.40" y="631.43" font-size="8.4" font-weight="bold" fill="#1a1a1a" text-anchor="end">1</text>
<line x1="271.30" y1="606.87" x2="273.50" y2="606.87" stroke="#5e5e5e" stroke-width="0.9" />
<text x="266.40" y="610.37" font-size="8.4" font-weight="bold" fill="#1a1a1a" text-anchor="end">2</text>
<line x1="271.30" y1="585.80" x2="273.50" y2="585.80" stroke="#5e5e5e" stroke-width="0.9" />
<text x="266.40" y="589.30" font-size="8.4" font-weight="bold" fill="#1a1a1a" text-anchor="end">3</text>
<line x1="271.30" y1="564.73" x2="273.50" y2="564.73" stroke="#5e5e5e" stroke-width="0.9" />
<text x="266.40" y="568.23" font-size="8.4" font-weight="bold" fill="#1a1a1a" text-anchor="end">4</text>
<line x1="271.30" y1="543.67" x2="273.50" y2="543.67" stroke="#5e5e5e" stroke-width="0.9" />
<text x="266.40" y="547.17" font-size="8.4" font-weight="bold" fill="#1a1a1a" text-anchor="end">5</text>
<line x1="271.30" y1="522.60" x2="273.50" y2="522.60" stroke="#5e5e5e" stroke-width="0.9" />
<text x="266.40" y="526.10" font-size="8.4" font-weight="bold" fill="#1a1a1a" text-anchor="end">6</text>
<polygon points="336.80,524.35 337.40,525.78 338.94,525.90 337.76,526.91 338.12,528.42 336.80,527.61 335.48,528.42 335.84,526.91 334.66,525.90 336.20,525.78" fill="#1a1a1a"/>
<polygon points="347.80,592.15 348.40,593.58 349.94,593.70 348.76,594.71 349.12,596.22 347.80,595.41 346.48,596.22 346.84,594.71 345.66,593.70 347.20,593.58" fill="#1a1a1a"/>
<text x="241.90" y="586.50" font-size="8.3" font-weight="bold" fill="#1a1a1a" text-anchor="middle" textLength="90.20" lengthAdjust="spacingAndGlyphs" transform="rotate(-90 241.90 586.50)">Relative fold induction</text>
<text x="250.60" y="586.00" font-size="8.3" font-weight="bold" fill="#1a1a1a" text-anchor="middle" textLength="68.80" lengthAdjust="spacingAndGlyphs" transform="rotate(-90 250.60 586.00)">(specific Ab/IgG)</text>
<text x="294.50" y="661.40" font-size="8.3" font-weight="bold" fill="#1a1a1a" textLength="24.00" lengthAdjust="spacingAndGlyphs">LTK-P</text>
<text x="330.90" y="661.40" font-size="8.3" font-weight="bold" fill="#1a1a1a" textLength="23.80" lengthAdjust="spacingAndGlyphs">LTK-J</text>
<text x="366.00" y="661.40" font-size="8.3" font-weight="bold" fill="#1a1a1a" textLength="23.80" lengthAdjust="spacingAndGlyphs">LTK-P</text>
<text x="401.90" y="661.40" font-size="8.3" font-weight="bold" fill="#1a1a1a" textLength="24.10" lengthAdjust="spacingAndGlyphs">LTK-J</text>
<line x1="295.90" y1="667.50" x2="350.50" y2="667.50" stroke="#444" stroke-width="1" />
<line x1="369.90" y1="667.50" x2="423.70" y2="667.50" stroke="#444" stroke-width="1" />
<text x="309.90" y="678.20" font-size="8.3" font-weight="bold" fill="#1a1a1a" textLength="27.30" lengthAdjust="spacingAndGlyphs">si SCB</text>
<text x="379.30" y="678.20" font-size="8.3" font-weight="bold" fill="#1a1a1a" textLength="35.70" lengthAdjust="spacingAndGlyphs">DN IKK<tspan font-weight="normal">&#945;</tspan></text>
<rect x="400.10" y="528.30" width="20.10" height="3.80" fill="#262626" stroke="#161616" stroke-width="0.5"/>
<rect x="400.60" y="540.60" width="19.10" height="2.70" fill="#cacaca" stroke="#444" stroke-width="1"/>
<text x="424.00" y="533.00" font-size="8.3" font-weight="bold" fill="#1a1a1a" textLength="12.00" lengthAdjust="spacingAndGlyphs">N-1</text>
<text x="424.00" y="545.00" font-size="8.3" font-weight="bold" fill="#1a1a1a" textLength="16.60" lengthAdjust="spacingAndGlyphs">ER<tspan font-weight="normal">&#945;</tspan></text>
<text x="473.00" y="516.50" font-size="14" font-weight="bold" fill="#1a1a1a">i</text>
<text x="543.00" y="512.70" font-size="8.3" font-weight="bold" fill="#1a1a1a" textLength="111.70" lengthAdjust="spacingAndGlyphs">IKK<tspan font-weight="normal">&#945;</tspan> ChIP on pS2 promoter</text>
<line x1="557.55" y1="604.60" x2="557.55" y2="613.00" stroke="#666" stroke-width="1.1" />
<line x1="555.65" y1="604.60" x2="559.45" y2="604.60" stroke="#333" stroke-width="0.9" />
<rect x="552.30" y="613.30" width="10.50" height="35.70" fill="#262626" stroke="#161616" stroke-width="0.6"/>
<line x1="575.30" y1="565.60" x2="575.30" y2="577.30" stroke="#666" stroke-width="1.1" />
<line x1="573.40" y1="565.60" x2="577.20" y2="565.60" stroke="#333" stroke-width="0.9" />
<rect x="570.00" y="577.80" width="10.60" height="71.20" fill="#cacaca" stroke="#444" stroke-width="1"/>
<line x1="616.75" y1="531.60" x2="616.75" y2="547.30" stroke="#666" stroke-width="1.1" />
<line x1="614.85" y1="531.60" x2="618.65" y2="531.60" stroke="#333" stroke-width="0.9" />
<rect x="611.40" y="547.60" width="10.70" height="101.40" fill="#262626" stroke="#161616" stroke-width="0.6"/>
<line x1="634.70" y1="566.90" x2="634.70" y2="576.40" stroke="#666" stroke-width="1.1" />
<line x1="632.80" y1="566.90" x2="636.60" y2="566.90" stroke="#333" stroke-width="0.9" />
<rect x="629.70" y="576.90" width="10.00" height="72.10" fill="#cacaca" stroke="#444" stroke-width="1"/>
<rect x="507.70" y="522.40" width="176.80" height="126.60" fill="none" stroke="#5e5e5e" stroke-width="1.05"/>
<line x1="507.70" y1="649.00" x2="509.90" y2="649.00" stroke="#5e5e5e" stroke-width="0.9" />
<text x="502.40" y="652.80" font-size="8.4" font-weight="bold" fill="#1a1a1a" text-anchor="end">0</text>
<line x1="507.70" y1="630.91" x2="509.90" y2="630.91" stroke="#5e5e5e" stroke-width="0.9" />
<text x="502.40" y="634.71" font-size="8.4" font-weight="bold" fill="#1a1a1a" text-anchor="end">1</text>
<line x1="507.70" y1="612.83" x2="509.90" y2="612.83" stroke="#5e5e5e" stroke-width="0.9" />
<text x="502.40" y="616.63" font-size="8.4" font-weight="bold" fill="#1a1a1a" text-anchor="end">2</text>
<line x1="507.70" y1="594.74" x2="509.90" y2="594.74" stroke="#5e5e5e" stroke-width="0.9" />
<text x="502.40" y="598.54" font-size="8.4" font-weight="bold" fill="#1a1a1a" text-anchor="end">3</text>
<line x1="507.70" y1="576.66" x2="509.90" y2="576.66" stroke="#5e5e5e" stroke-width="0.9" />
<text x="502.40" y="580.46" font-size="8.4" font-weight="bold" fill="#1a1a1a" text-anchor="end">4</text>
<line x1="507.70" y1="558.57" x2="509.90" y2="558.57" stroke="#5e5e5e" stroke-width="0.9" />
<text x="502.40" y="562.37" font-size="8.4" font-weight="bold" fill="#1a1a1a" text-anchor="end">5</text>
<line x1="507.70" y1="540.49" x2="509.90" y2="540.49" stroke="#5e5e5e" stroke-width="0.9" />
<text x="502.40" y="544.29" font-size="8.4" font-weight="bold" fill="#1a1a1a" text-anchor="end">6</text>
<line x1="507.70" y1="522.40" x2="509.90" y2="522.40" stroke="#5e5e5e" stroke-width="0.9" />
<text x="502.40" y="526.20" font-size="8.4" font-weight="bold" fill="#1a1a1a" text-anchor="end">7</text>
<polygon points="575.20,557.25 575.80,558.68 577.34,558.80 576.16,559.81 576.52,561.32 575.20,560.51 573.88,561.32 574.24,559.81 573.06,558.80 574.60,558.68" fill="#1a1a1a"/>
<text x="479.50" y="585.40" font-size="8.3" font-weight="bold" fill="#1a1a1a" text-anchor="middle" textLength="90.00" lengthAdjust="spacingAndGlyphs" transform="rotate(-90 479.50 585.40)">Relative fold induction</text>
<text x="488.40" y="584.20" font-size="8.3" font-weight="bold" fill="#1a1a1a" text-anchor="middle" textLength="69.20" lengthAdjust="spacingAndGlyphs" transform="rotate(-90 488.40 584.20)">(specific Ab/IgG)</text>
<text x="562.10" y="661.40" font-size="8.3" font-weight="bold" fill="#1a1a1a" textLength="7.90" lengthAdjust="spacingAndGlyphs">Et</text>
<text x="621.00" y="661.40" font-size="8.3" font-weight="bold" fill="#1a1a1a" textLength="9.10" lengthAdjust="spacingAndGlyphs">E2</text>
<rect x="516.90" y="528.20" width="19.70" height="3.50" fill="#262626" stroke="#161616" stroke-width="0.5"/>
<rect x="517.40" y="540.10" width="18.70" height="2.90" fill="#cacaca" stroke="#444" stroke-width="1"/>
<text x="542.20" y="533.10" font-size="8.3" font-weight="bold" fill="#1a1a1a" textLength="52.60" lengthAdjust="spacingAndGlyphs">LTK-Parental</text>
<text x="542.20" y="544.50" font-size="8.3" font-weight="bold" fill="#1a1a1a" textLength="52.60" lengthAdjust="spacingAndGlyphs">LTK-Jagged1</text>
</svg></body></html>
